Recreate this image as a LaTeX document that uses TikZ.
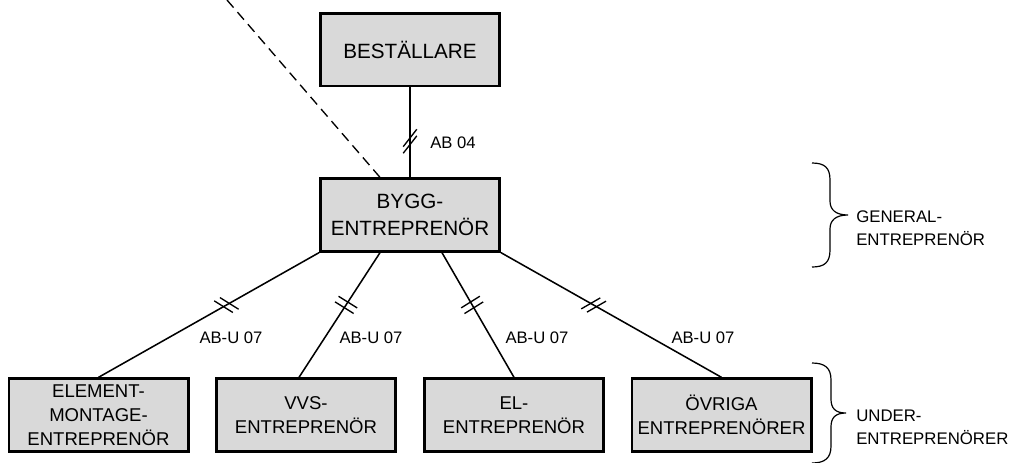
\documentclass[tikz,border=0pt]{standalone}
\usepackage{fontspec}
\setmainfont{Liberation Sans}
\usetikzlibrary{decorations.markings}

\tikzset{
  party/.style={draw, line width=2pt, fill=black!15, inner sep=0pt, align=center,
    minimum width=134.5pt, minimum height=54.5pt},
  mainparty/.style={party, font=\fontsize{15.5pt}{20.25pt}\selectfont},
  subparty/.style={party, font=\fontsize{13.9pt}{18pt}\selectfont},
  lbl/.style={inner sep=0pt, font=\fontsize{12.5pt}{15pt}\selectfont},
  grouplbl/.style={inner sep=0pt, anchor=west, align=left,
    font=\fontsize{12.6pt}{17.25pt}\selectfont},
  conn/.style={line width=1.15pt},
  brace/.style={line width=0.9pt},
  % contract mark: two short parallel strokes across a connector
  tick/.style 2 args={postaction={decorate, decoration={markings,
    mark=at position #1 with {
      \foreach \s in {-3.3,3.3}{
        \begin{scope}[shift={(\s,0)}]
          \pgftransformresetnontranslations
          \draw[line width=1pt, rotate=#2] (-11,0) -- (11,0);
        \end{scope}
      }
    }}}},
}

\begin{document}
\begin{tikzpicture}[x=0.75pt, y=-0.75pt]
  \useasboundingbox (0,0) rectangle (1018,462);

  % parties
  \node[mainparty] (best) at (410,49.5) {BESTÄLLARE};
  \node[mainparty] (bygg) at (410,215) {BYGG-\\ENTREPRENÖR};
  \node[subparty] (elem) at (98.5,415) {ELEMENT-\\MONTAGE-\\ENTREPRENÖR};
  \node[subparty] (vvs) at (306,415) {VVS-\\ENTREPRENÖR};
  \node[subparty] (el) at (514,415) {EL-\\ENTREPRENÖR};
  \node[subparty] (ovr) at (721.5,415) {ÖVRIGA\\ENTREPRENÖRER};

  % contracts
  \draw[conn, tick={0.6}{52}] (best) -- (bygg);
  \draw[conn, tick={0.42}{-32}] (bygg.south west) -- (elem.north);
  \draw[conn, tick={0.42}{-32}] ([shift={(-30,0)}]bygg.south) -- ([shift={(-7,0)}]vvs.north);
  \draw[conn, tick={0.42}{32}] ([shift={(32,0)}]bygg.south) -- (el.north);
  \draw[conn, tick={0.42}{30}] (bygg.south east) -- (ovr.north);

  % dashed link from outside
  \coordinate (ext) at (227,0);
  \draw[line width=1pt, dash pattern=on 7.5pt off 4.5pt] (ext) -- ([shift={(-30,0)}]bygg.north);

  % contract labels
  \node[lbl] (l0) at (453,143) {AB 04};
  \node[lbl] (l1) at (231,338) {AB-U 07};
  \node[lbl] (l2) at (371,338) {AB-U 07};
  \node[lbl] (l3) at (537,338) {AB-U 07};
  \node[lbl] (l4) at (703,338) {AB-U 07};

  % group braces
  \draw[brace] (812,163) .. controls (825,163) and (830,168) .. (830,180)
    -- (830,201) .. controls (830,210) and (836,215) .. (848,215)
    .. controls (836,215) and (830,220) .. (830,229)
    -- (830,250) .. controls (830,262) and (825,267) .. (812,267);
  \draw[brace] (812,363) .. controls (825,363) and (831,368) .. (831,380)
    -- (831,399) .. controls (831,408) and (835,413) .. (846,413)
    .. controls (835,413) and (831,418) .. (831,427)
    -- (831,446) .. controls (831,458) and (825,463) .. (812,463);

  \node[grouplbl] (gen) at (856,228) {GENERAL-\\ENTREPRENÖR};
  \node[grouplbl] (und) at (856,427) {UNDER-\\ENTREPRENÖRER};
\end{tikzpicture}
\end{document}
